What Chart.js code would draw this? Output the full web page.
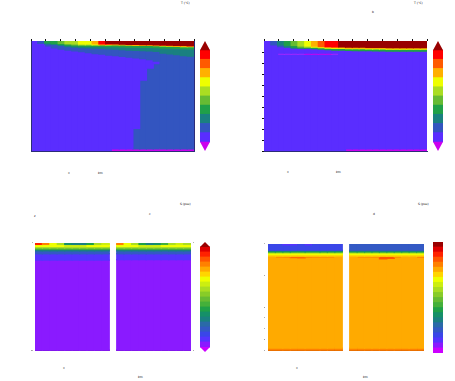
<!DOCTYPE html>
<html lang="en">
<head>
<meta charset="utf-8">
<title>sections</title>
<script src="https://cdn.jsdelivr.net/npm/chart.js@4.4.1/dist/chart.umd.min.js"></script>
<style>
  html,body{margin:0;padding:0;background:#fff;}
  body{position:relative;width:455px;height:381px;overflow:hidden;font-family:"DejaVu Sans",Arial,sans-serif;}
  .box{position:absolute;}
  .box canvas{display:block;}
  .tiny{position:absolute;font-size:3px;line-height:3px;color:#000;white-space:nowrap;}
</style>
</head>
<body>
<div class="box" style="left:30px;top:38px;width:165px;height:115px"><canvas id="f1"></canvas></div>
<div class="box" style="left:200px;top:41px;width:10px;height:110px"><canvas id="cb1"></canvas></div>
<div class="box" style="left:261px;top:38px;width:167px;height:115px"><canvas id="f2"></canvas></div>
<div class="box" style="left:433px;top:41px;width:10px;height:110px"><canvas id="cb2"></canvas></div>
<div class="box" style="left:28px;top:240px;width:169px;height:114px"><canvas id="f3"></canvas></div>
<div class="box" style="left:200px;top:242px;width:10px;height:110px"><canvas id="cb3"></canvas></div>
<div class="box" style="left:258px;top:240px;width:172px;height:115px"><canvas id="f4"></canvas></div>
<div class="box" style="left:433px;top:242px;width:10px;height:111px"><canvas id="cb4"></canvas></div>

<div class="tiny" style="left:181px;top:2px">T (°C)</div>
<div class="tiny" style="left:68px;top:172px">x</div>
<div class="tiny" style="left:98px;top:172px">km</div>
<div class="tiny" style="left:414px;top:2px">T (°C)</div>
<div class="tiny" style="left:372px;top:11px">b</div>
<div class="tiny" style="left:287px;top:171px">x</div>
<div class="tiny" style="left:336px;top:171px">km</div>
<div class="tiny" style="left:180px;top:203px">S (psu)</div>
<div class="tiny" style="left:34px;top:215px">z</div>
<div class="tiny" style="left:149px;top:213px">c</div>
<div class="tiny" style="left:63px;top:367px">x</div>
<div class="tiny" style="left:138px;top:376px">km</div>
<div class="tiny" style="left:418px;top:203px">S (psu)</div>
<div class="tiny" style="left:373px;top:213px">d</div>
<div class="tiny" style="left:296px;top:367px">x</div>
<div class="tiny" style="left:363px;top:376px">km</div>

<script>
(function(){
  // ---- data: each column is a list of [colour level, layer thickness] from the surface down ----
  const DEPTH = 110;
  const COARSE = ['#cc00ee','#5a2dff','#3355c0','#1a8080','#20a048','#66bb33','#aadd22','#eeff00','#ffb000','#ff5a00','#ff0000','#990000','#a526ff'];
  const FINE = ['#cc00ff','#8a1aff','#5533ff','#3a46e8','#3359c4','#2a6aa8','#1a8080','#159068','#1fa048','#44b03a',
                '#66bb33','#88cc28','#aadd22','#ccee11','#eeff00','#ffd500','#ffaa00','#ff8000','#ff5500','#ff2200',
                '#dd0000','#990000','#6a10b0','#c05000'];

  const P1_COLS = [
    [[1,110]],
    [[2,2.5],[1,107.5]],
    [[4,2],[3,1],[2,2],[1,105]],
    [[4,2.5],[3,1],[2,3.3],[1,103.2]],
    [[5,2.5],[4,1],[3,1],[2,3.7],[1,101.8]],
    [[6,2.5],[5,1],[4,1],[3,1],[2,3.7],[1,100.8]],
    [[6,3],[5,1],[4,1],[3,1.2],[2,3.6],[1,100.2]],
    [[7,3],[6,1],[4,1.2],[3,1.3],[2,4.1],[1,99.4]],
    [[7,3],[6,0.8],[4,1.5],[3,1.5],[2,4.7],[1,98.5]],
    [[8,3],[7,0.8],[4,1.5],[3,1.8],[2,5.4],[1,97.5]],
    [[10,3],[8,0.8],[4,1.5],[3,2],[2,5.9],[1,96.8]],
    [[11,2.5],[10,0.7],[7,0.8],[4,1.5],[3,2.3],[2,6.2],[1,96]],
    [[11,3],[8,0.8],[4,1.7],[3,2.5],[2,6.7],[1,92.8],[0,2.5]],
    [[11,3.2],[8,0.8],[4,1.8],[3,2.7],[2,6.8],[1,92.2],[0,2.5]],
    [[11,3.4],[8,0.8],[4,1.8],[3,3],[2,7],[1,91.5],[0,2.5]],
    [[11,3.5],[8,0.8],[4,1.8],[3,3.2],[2,7.5],[1,70.2],[2,20.5],[0,2.5]],
    [[11,3.6],[8,0.8],[4,1.9],[3,3.3],[2,8],[1,21.4],[2,68.5],[0,2.5]],
    [[11,3.7],[8,0.8],[4,1.9],[3,3.5],[2,8.6],[1,8.5],[2,80.5],[0,2.5]],
    [[11,3.8],[8,0.8],[4,2],[3,3.8],[2,9.6],[1,2.5],[2,85],[0,2.5]],
    [[11,3.9],[9,0.5],[7,0.6],[4,2],[3,5],[2,95.5],[0,2.5]],
    [[11,4.1],[9,0.5],[7,0.6],[4,2],[3,5.6],[2,94.7],[0,2.5]],
    [[11,4.3],[9,0.5],[7,0.6],[4,2],[3,6.2],[2,93.9],[0,2.5]],
    [[11,4.5],[9,0.5],[7,0.6],[4,2.1],[3,6.8],[2,93],[0,2.5]],
    [[11,4.6],[9,0.5],[7,0.6],[4,2.2],[3,7.2],[2,92.4],[0,2.5]]
  ];

  const P2_COLS = [
    [[1,110]],
    [[2,4],[1,106]],
    [[3,4],[2,1.5],[1,6.5],[12,1],[1,97]],
    [[4,4.5],[3,1.5],[1,6],[12,1],[1,97]],
    [[5,4.5],[4,1.5],[3,1],[1,5],[12,1],[1,97]],
    [[6,5],[5,1],[4,1],[1,5],[12,1],[1,97]],
    [[7,5],[6,1],[4,1.2],[1,4.8],[0,1],[1,97]],
    [[8,5.2],[7,1],[4,1.3],[1,4.5],[0,1],[1,97]],
    [[9,5.5],[7,1],[4,1.5],[1,4],[0,1],[1,97]],
    [[10,5.6],[8,0.8],[7,0.7],[4,1.6],[1,3.3],[0,1],[1,97]],
    [[10,5.8],[8,0.8],[7,0.7],[4,1.7],[1,3],[12,1],[1,97]],
    [[11,5.8],[8,0.9],[7,0.6],[4,1.8],[1,100.9]],
    [[11,6],[8,1],[7,0.5],[4,1.8],[1,98.2],[0,2.5]],
    [[11,6.1],[8,1],[7,0.5],[4,1.9],[1,98],[0,2.5]],
    [[11,6.2],[8,1],[7,0.5],[4,1.9],[1,97.9],[0,2.5]],
    [[11,6.3],[8,1],[7,0.5],[4,1.9],[1,97.8],[0,2.5]],
    [[11,6.3],[8,1],[7,0.5],[4,2],[1,97.7],[0,2.5]],
    [[11,6.4],[8,1],[7,0.5],[4,2],[1,97.6],[0,2.5]],
    [[11,6.5],[8,1],[7,0.5],[4,2],[1,97.5],[0,2.5]],
    [[11,6.5],[8,1],[7,0.5],[4,2],[1,97.5],[0,2.5]],
    [[11,6.6],[8,1],[7,0.5],[4,2],[1,97.4],[0,2.5]],
    [[11,6.6],[8,1],[7,0.5],[4,2],[1,97.4],[0,2.5]],
    [[11,6.7],[8,1],[7,0.5],[4,2],[1,97.3],[0,2.5]],
    [[11,6.7],[8,1],[7,0.5],[4,2],[1,97.3],[0,2.5]]
  ];

  const P3_COLS = [
    [[19,1.5],[14,2],[12,1.5],[9,1.5],[6,1.5],[4,3],[2,6.5],[1,91.5],[22,1]],
    [[17,1.5],[14,2],[12,1.5],[9,1.5],[6,1.5],[4,3],[2,6.5],[1,91.5],[22,1]],
    [[14,1.5],[14,2],[12,1.5],[9,1.5],[6,1.5],[4,3],[2,6.5],[1,91.5],[22,1]],
    [[12,1.5],[14,2],[12,1.5],[9,1.5],[6,1.5],[4,3],[2,6.5],[1,91.5],[22,1]],
    [[7,1.5],[13,2],[12,1.5],[9,1.5],[6,1.5],[4,3],[2,6.5],[1,91.5],[22,1]],
    [[6,1.5],[13,2],[12,1.5],[9,1.5],[6,1.5],[4,3],[2,6.5],[1,91.5],[22,1]],
    [[6,1.5],[13,2],[12,1.5],[9,1.5],[6,1.5],[4,3],[2,6.5],[1,91.5],[22,1]],
    [[8,1.5],[14,2],[12,1.5],[9,1.5],[6,1.5],[4,3],[2,6.5],[1,91.5],[22,1]],
    [[12,1.5],[14,2],[12,1.5],[9,1.5],[6,1.5],[4,3],[2,6.5],[1,91.5],[22,1]],
    [[13,1.5],[14,2],[12,1.5],[9,1.5],[6,1.5],[4,3],[2,6.5],[1,91.5],[22,1]],
    [],
    [[17,1.5],[14,2],[12,1.5],[9,1.5],[6,1.5],[4,3],[2,6],[1,92],[22,1]],
    [[14,1.5],[14,2],[12,1.5],[9,1.5],[6,1.5],[4,3],[2,6],[1,92],[22,1]],
    [[12,1.5],[14,2],[12,1.5],[9,1.5],[6,1.5],[4,3],[2,6],[1,92],[22,1]],
    [[8,1.5],[13,2],[12,1.5],[9,1.5],[6,1.5],[4,3],[2,6],[1,92],[22,1]],
    [[6,1.5],[13,2],[12,1.5],[9,1.5],[6,1.5],[4,3],[2,6],[1,92],[22,1]],
    [[7,1.5],[13,2],[12,1.5],[9,1.5],[6,1.5],[4,3],[2,6],[1,92],[22,1]],
    [[9,1.5],[14,2],[12,1.5],[9,1.5],[6,1.5],[4,3],[2,6],[1,92],[22,1]],
    [[12,1.5],[14,2],[12,1.5],[9,1.5],[6,1.5],[4,3],[2,6],[1,92],[22,1]],
    [[13,1.5],[14,2],[12,1.5],[9,1.5],[6,1.5],[4,3],[2,6],[1,92],[22,1]],
    [[12,1.5],[14,2],[12,1.5],[9,1.5],[6,1.5],[4,3],[2,6],[1,92],[22,1]]
  ];

  const P4_COLS = [
    [[3,6.5],[6,0.8],[8,1],[12,1],[14,1.5],[15,1.5],[16,94.7],[17,2],[23,1]],
    [[3,6.5],[6,0.8],[8,1],[12,1],[14,1.5],[15,1.5],[16,0.7],[17,0.6],[16,93.4],[17,2],[23,1]],
    [[2,1],[3,5.5],[6,0.8],[8,1],[12,1],[14,1.5],[15,1.5],[16,0.7],[17,0.7],[16,93.3],[17,2],[23,1]],
    [[2,1],[3,5.5],[6,0.8],[8,1],[12,1],[14,1.5],[15,1.5],[16,0.7],[18,1],[16,93],[17,2],[23,1]],
    [[3,6.5],[6,0.8],[8,1],[12,1],[14,1.5],[15,1.5],[16,0.7],[18,1.2],[16,92.8],[17,2],[23,1]],
    [[2,1],[3,5.5],[6,0.8],[8,1],[12,1],[14,1.5],[15,1.5],[16,0.7],[17,0.8],[16,93.2],[17,2],[23,1]],
    [[3,6.5],[6,0.8],[8,1],[12,1],[14,1.5],[15,1.5],[16,0.7],[17,0.6],[16,93.4],[17,2],[23,1]],
    [[3,6.5],[6,0.8],[8,1],[12,1],[14,1.5],[15,1.5],[16,0.7],[17,0.5],[16,93.5],[17,2],[23,1]],
    [[3,6.5],[6,0.8],[8,1],[12,1],[14,1.5],[15,1.5],[16,0.7],[17,0.5],[16,93.5],[17,2],[23,1]],
    [[3,6.5],[6,0.8],[8,1],[12,1],[14,1.5],[15,1.5],[16,94.7],[17,2],[23,1]],
    [],
    [[4,6.5],[6,0.8],[8,1],[12,1],[14,1.5],[15,1.5],[16,94.7],[17,2],[23,1]],
    [[4,6.5],[6,0.8],[8,1],[12,1],[14,1.5],[15,1.5],[16,0.7],[17,0.5],[16,93.5],[17,2],[23,1]],
    [[4,6.5],[6,0.8],[8,1],[12,1],[14,1.5],[15,1.5],[16,0.7],[17,0.5],[16,93.5],[17,2],[23,1]],
    [[4,6.5],[6,0.8],[8,1],[12,1],[14,1.5],[15,1.5],[16,0.7],[17,0.6],[16,93.4],[17,2],[23,1]],
    [[4,6.5],[6,0.8],[8,1],[12,1],[14,1.5],[15,1.5],[16,0.5],[18,2.5],[16,91.7],[17,2],[23,1]],
    [[4,6.5],[6,0.8],[8,1],[12,1],[14,1.5],[15,1.5],[16,0.5],[18,2],[16,92.2],[17,2],[23,1]],
    [[4,6.5],[6,0.8],[8,1],[12,1],[14,1.5],[15,1.5],[16,0.7],[17,0.5],[16,93.5],[17,2],[23,1]],
    [[4,6.5],[6,0.8],[8,1],[12,1],[14,1.5],[15,1.5],[16,94.7],[17,2],[23,1]],
    [[4,6.5],[6,0.8],[8,1],[12,1],[14,1.5],[15,1.5],[16,94.7],[17,2],[23,1]],
    [[4,6.5],[6,0.8],[8,1],[12,1],[14,1.5],[15,1.5],[16,0.7],[17,0.8],[16,93.2],[17,2],[23,1]]
  ];

  // colour bar levels, bottom to top
  const CB_COARSE = [1,2,3,4,5,6,7,8,9,10];
  const CB3_LEVELS = [1,2,3,4,5,6,7,8,9,10,11,12,13,14,15,16,17,18,19,20];
  const CB4_LEVELS = [0,1,2,3,4,5,6,7,8,9,10,11,12,13,14,15,16,17,18,19,20,21];

  // tick positions (depth units / distance tenths)
  const TOP_TICKS = [0,1,2,3,4,5,6,7,8,9,10];
  const P2_LEFT_TICKS = [11,22,33,44,55,66,77,88,99,110];
  const P3_TICKS = [0,110];
  const P4_LEFT_TICKS = [0,32.3,65,76,87,98,109];
  const P4_RIGHT_TICKS = [0,11.3,32.3,54.7,65,76,87,98,109];

  const EDGE = '#2c2c78';

  // ---- helpers ----
  function layerSets(cols, pal){
    const n = Math.max(...cols.map(c=>c.length));
    const out = [];
    for(let k=0;k<n;k++){
      out.push({
        data: cols.map(c=> c[k] ? c[k][1] : null),
        backgroundColor: cols.map(c=> c[k] ? pal[c[k][0]] : 'rgba(0,0,0,0)'),
        stack:'col', borderWidth:0, barPercentage:1, categoryPercentage:1,
        inflateAmount:0.6, xAxisID:'x', yAxisID:'y'
      });
    }
    return out;
  }
  const noGrid = ()=>({display:false, drawTicks:false});
  const edge = ()=>({display:true, color:EDGE, width:1, z:1});
  const noEdge = ()=>({display:false});
  const tickLine = len=>({display:true, drawOnChartArea:false, drawTicks:true, tickLength:len, color:'#111', lineWidth:1});
  const fixedTicks = list=> s=>{ s.ticks = list.map(v=>({value:v})); };
  const tinyLabels = pad=>({display:true, font:{size:1.6}, color:'#000', padding:pad, autoSkip:false});

  function baseScales(xBorder, yBorder){
    return {
      x:{type:'category', stacked:true, display:true, grid:noGrid(), ticks:{display:false}, border:xBorder},
      y:{type:'linear', stacked:true, reverse:true, min:0, max:DEPTH, display:true, grid:noGrid(), ticks:{display:false}, border:yBorder}
    };
  }

  function field(id, cols, pal, scales, padding){
    return new Chart(document.getElementById(id), {
      type:'bar',
      data:{labels: cols.map((c,i)=>String(i)), datasets: layerSets(cols, pal)},
      options:{
        responsive:true, maintainAspectRatio:false, animation:false,
        layout:{padding},
        plugins:{legend:{display:false}, tooltip:{enabled:false}},
        scales
      }
    });
  }

  // ---- colour bar arrows ----
  const cbArrows = {
    id:'cbArrows',
    afterDatasetsDraw(chart, args, opts){
      const bar = chart.getDatasetMeta(0).data[0];
      const y = chart.scales.y;
      const n = chart.data.datasets.length;
      const l = bar.x - bar.width/2, r = bar.x + bar.width/2;
      const ctx = chart.ctx;
      [[n, n+1, opts.top],[0, -1, opts.bottom]].forEach(([b,t,col])=>{
        ctx.beginPath();
        ctx.moveTo(l, y.getPixelForValue(b));
        ctx.lineTo(r, y.getPixelForValue(b));
        ctx.lineTo(bar.x, y.getPixelForValue(t));
        ctx.closePath();
        ctx.fillStyle = col;
        ctx.fill();
      });
    }
  };

  function colorbar(id, levels, pal, arrows){
    return new Chart(document.getElementById(id), {
      type:'bar',
      data:{labels:['c'], datasets: levels.map(ci=>({data:[1], backgroundColor:pal[ci], stack:'cb', borderWidth:0, barPercentage:1, categoryPercentage:1, inflateAmount:0.4}))},
      options:{
        responsive:true, maintainAspectRatio:false, animation:false,
        layout:{padding:0},
        plugins:{legend:{display:false}, tooltip:{enabled:false}, cbArrows: arrows || false},
        scales:{
          x:{display:false, stacked:true},
          y:{display:false, stacked:true, min: arrows ? -1 : 0, max: levels.length + (arrows ? 1 : 0)}
        }
      },
      plugins:[cbArrows]
    });
  }

  // ---- panel 1 ----
  const s1 = baseScales(edge(), edge());
  s1.xt = {type:'linear', position:'top', min:0, max:10, display:true, grid:tickLine(2), ticks:{display:false}, border:noEdge(), afterBuildTicks:fixedTicks(TOP_TICKS)};
  s1.yr = {type:'linear', position:'right', min:0, max:DEPTH, display:true, grid:noGrid(), ticks:{display:false}, border:edge()};
  field('f1', P1_COLS, COARSE, s1, {left:1, right:1, top:1, bottom:1.5});
  colorbar('cb1', CB_COARSE, COARSE, {top:COARSE[11], bottom:COARSE[0]});

  // ---- panel 2 ----
  const s2 = baseScales(edge(), noEdge());
  s2.xt = {type:'linear', position:'top', min:0, max:10, display:true, grid:tickLine(2), ticks:{display:false}, border:noEdge(), afterBuildTicks:fixedTicks(TOP_TICKS)};
  s2.yl = {type:'linear', position:'left', reverse:true, min:0, max:DEPTH, display:true, grid:tickLine(2), ticks:{display:false}, border:noEdge(), afterBuildTicks:fixedTicks(P2_LEFT_TICKS)};
  field('f2', P2_COLS, COARSE, s2, {left:1, right:1, top:1, bottom:1.5});
  colorbar('cb2', CB_COARSE, COARSE, {top:COARSE[11], bottom:COARSE[0]});

  // ---- panel 3 ----
  const s3 = baseScales(noEdge(), noEdge());
  s3.yl = {type:'linear', position:'left', reverse:true, min:0, max:DEPTH, display:true, grid:noGrid(), ticks:tinyLabels(2), border:noEdge(), afterBuildTicks:fixedTicks(P3_TICKS), afterFit:s=>{ s.width = 4; }};
  s3.yr = {type:'linear', position:'right', reverse:true, min:0, max:DEPTH, display:true, grid:noGrid(), ticks:tinyLabels(2), border:noEdge(), afterBuildTicks:fixedTicks(P3_TICKS), afterFit:s=>{ s.width = 3; }};
  field('f3', P3_COLS, FINE, s3, {left:3, right:3, top:2, bottom:1.5});
  colorbar('cb3', CB3_LEVELS, FINE, {top:FINE[21], bottom:FINE[0]});

  // ---- panel 4 ----
  const s4 = baseScales(noEdge(), noEdge());
  s4.yl = {type:'linear', position:'left', reverse:true, min:0, max:DEPTH, display:true, grid:noGrid(), ticks:tinyLabels(3), border:noEdge(), afterBuildTicks:fixedTicks(P4_LEFT_TICKS), afterFit:s=>{ s.width = 4; }};
  s4.yr = {type:'linear', position:'right', reverse:true, min:0, max:DEPTH, display:true, grid:noGrid(), ticks:tinyLabels(3), border:noEdge(), afterBuildTicks:fixedTicks(P4_RIGHT_TICKS), afterFit:s=>{ s.width = 3; }};
  field('f4', P4_COLS, FINE, s4, {left:6, right:3, top:2, bottom:2});
  colorbar('cb4', CB4_LEVELS, FINE, null);
})();
</script>
</body>
</html>
